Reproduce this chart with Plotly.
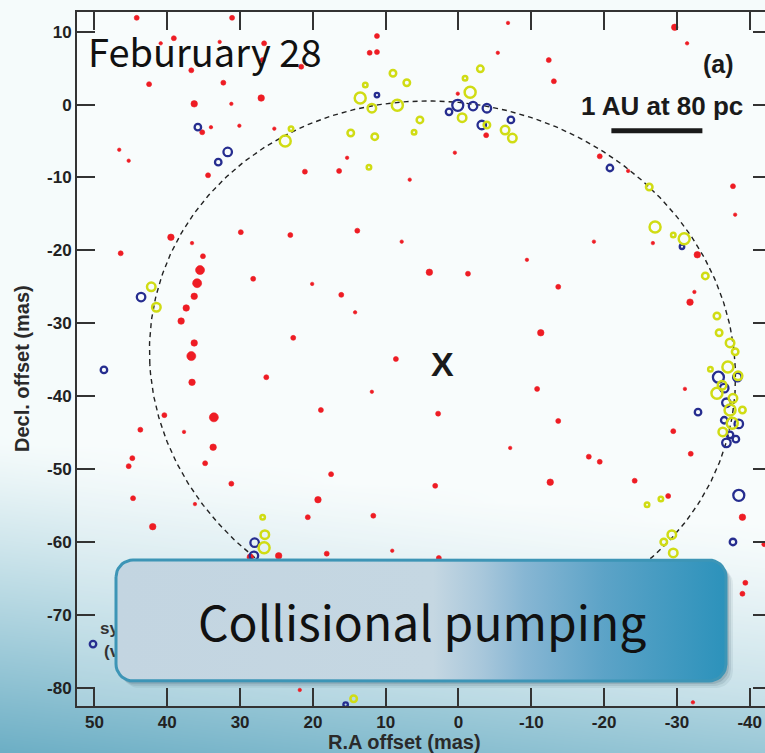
import numpy as np
import plotly.graph_objects as go

W, H = 765, 753
PL, PR, PT, PB = 77, 765, 12, 706          # plot area (pixels)

# ---------------- data (mas) : (RA offset, Dec offset, size class) ----------------
red_spots = [
    (44.2, 11.9, 2), (31.1, 11.9, 2), (39.1, 9.1, 2), (40.9, 8.4, 1), (32.8, 8.6, 1),
    (26.7, 8.4, 2), (26.9, 6.1, 2), (36.7, 4.7, 2), (21.6, 5.2, 2), (42.5, 2.8, 2),
    (32.3, 3.0, 2), (27.1, 0.9, 3), (36.3, 0.1, 3), (31.2, 0.1, 1), (35.2, -3.8, 2),
    (34.0, -3.1, 1), (30.1, -2.9, 1), (25.3, -3.3, 1), (46.6, -6.2, 1), (45.3, -7.7, 1),
    (34.4, -9.7, 2), (21.1, -9.2, 2), (16.4, -9.1, 2), (15.3, -7.3, 1), (12.2, 7.1, 2),
    (11.2, 7.2, 2), (11.2, 9.4, 2), (-6.8, 11.2, 1), (-29.7, 10.6, 3), (-31.4, 8.4, 1),
    (-12.4, 6.1, 2), (-5.4, 7.1, 1), (-13.1, 3.2, 2), (0.1, 1.5, 1), (-3.8, -4.2, 2),
    (0.5, -6.6, 1), (6.7, -10.3, 1), (-19.4, -7.1, 2), (-23.3, -9.1, 1), (-37.7, -11.2, 2),
    (-38.0, -15.1, 1),
    (39.5, -18.2, 3), (36.6, -19.0, 1), (46.4, -20.4, 2), (29.9, -17.5, 2), (23.1, -17.9, 2),
    (13.9, -17.3, 2), (7.8, -18.8, 1), (4.0, -23.0, 3), (-1.3, -23.2, 2), (-9.4, -21.3, 1),
    (-18.6, -18.8, 1), (-13.7, -25.0, 2), (-26.7, -19.0, 1), (-32.8, -20.6, 3), (-32.4, -25.7, 1),
    (-31.8, -27.1, 3), (35.1, -20.8, 2), (35.5, -22.7, 4), (35.9, -24.5, 4), (36.3, -26.3, 3),
    (37.4, -27.9, 3), (38.1, -29.7, 3), (28.2, -23.9, 2), (20.1, -24.6, 1), (16.1, -26.1, 2),
    (14.2, -28.5, 1), (36.3, -32.7, 3), (36.7, -34.5, 4), (36.6, -38.1, 3), (22.7, -32.0, 2),
    (26.4, -37.4, 2), (-11.3, -31.3, 3), (8.6, -34.9, 2), (11.9, -39.4, 1), (18.9, -41.9, 2),
    (2.8, -42.4, 2), (-10.8, -39.0, 2), (-13.7, -43.4, 2), (-31.1, -39.0, 1), (-29.5, -44.8, 2),
    (-31.9, -47.9, 2), (33.6, -42.9, 4), (33.7, -47.0, 3), (40.4, -42.6, 2), (43.7, -44.6, 2),
    (37.7, -44.9, 1), (34.8, -49.2, 2), (44.8, -48.5, 2), (45.3, -49.6, 2), (-7.1, -47.1, 1),
    (-17.9, -48.3, 2), (-19.4, -49.0, 2), (17.5, -50.7, 2), (3.2, -52.3, 2), (-12.6, -51.8, 3),
    (-24.2, -51.6, 2), (31.2, -52.0, 2), (44.7, -54.0, 2), (36.2, -54.8, 1), (19.3, -54.2, 3),
    (20.7, -56.6, 2), (11.7, -56.4, 2), (42.0, -57.9, 3), (-28.8, -53.7, 2), (-39.0, -56.6, 3),
    (18.1, -61.6, 2), (9.1, -61.2, 1), (2.7, -62.2, 2), (28.6, -62.1, 3), (24.7, -61.9, 3),
    (-39.4, -65.6, 2), (-39.0, -67.1, 2), (-42.0, -60.3, 2), (-32.2, -82.0, 1), (21.8, -80.3, 1),
]

blue_spots = [
    (35.8, -3.1, 2), (31.7, -6.5, 3), (33.0, -7.9, 2), (11.2, 1.3, 1), (0.1, -0.1, 4),
    (1.3, -1.0, 2), (-2.0, -0.2, 3), (-3.9, -0.5, 3), (-3.2, -2.8, 3), (-7.2, -2.1, 2),
    (-20.8, -8.7, 2), (43.6, -26.4, 3), (48.7, -36.4, 2), (-30.7, -19.5, 1), (-35.7, -37.4, 4),
    (-38.3, -37.4, 3), (-36.5, -38.9, 3), (-36.8, -40.9, 3), (-36.5, -43.3, 2), (-38.5, -43.8, 3),
    (-37.3, -45.3, 2), (-38.1, -45.9, 2), (-36.8, -46.4, 3), (-32.9, -42.2, 2), (-38.5, -53.6, 4),
    (-37.7, -60.0, 2), (28.0, -60.1, 3), (28.1, -61.9, 3), (50.2, -74.0, 2), (15.5, -82.3, 1),
]

yellow_spots = [
    (23.8, -5.0, 4), (23.0, -3.3, 1), (13.5, 0.9, 4), (12.8, 2.7, 1), (11.9, -0.5, 3),
    (14.8, -3.9, 2), (11.5, -4.4, 2), (12.3, -8.6, 1), (9.0, 4.3, 2), (7.1, 3.0, 2),
    (8.4, -0.1, 4), (5.3, -2.1, 2), (6.1, -3.8, 1), (-0.9, 3.6, 1), (-3.0, 4.9, 2),
    (-1.6, 1.7, 4), (-0.5, -1.8, 3), (-3.9, -2.8, 2), (-6.4, -3.5, 3), (-7.4, -4.6, 3),
    (-26.2, -11.3, 2), (-27.0, -16.8, 4), (-29.5, -17.9, 1), (-31.0, -18.4, 4), (-33.9, -23.5, 2),
    (42.2, -25.0, 3), (41.5, -27.8, 3), (-35.5, -29.0, 2), (-35.8, -31.3, 2), (-37.3, -32.7, 3),
    (-38.0, -33.9, 2), (-37.0, -36.0, 4), (-34.6, -36.3, 1), (-38.4, -37.2, 3), (-36.2, -38.5, 3),
    (-35.5, -39.6, 4), (-37.7, -40.3, 3), (-37.3, -41.9, 4), (-39.0, -41.9, 2), (-37.6, -43.7, 4),
    (-36.3, -44.9, 3), (-25.9, -54.9, 1), (-27.8, -54.1, 1), (-29.3, -59.0, 3), (-28.2, -60.0, 2),
    (-29.5, -61.5, 3), (26.9, -56.6, 1), (26.6, -59.0, 3), (26.7, -60.8, 4), (14.4, -81.5, 2),
]

x_tick_vals = [50, 40, 30, 20, 10, 0, -10, -20, -30, -40]
x_tick_text = ["50", "40", "30", "20", "10", "0", "-10", "-20", "-30", "-40"]
y_tick_vals = [10, 0, -10, -20, -30, -40, -50, -60, -70, -80]
y_tick_text = ["10", "0", "-10", "-20", "-30", "-40", "-50", "-60", "-70", "-80"]

X_RANGE = [52.4, -42.1]
Y_RANGE = [-82.5, 12.7]

ring_center = (2.2, -35.6)      # mas
ring_semi_axes = (40.2, 36.1)   # mas
ring_shear = 2.0
star_pos = (2.13, -35.6)
scale_bar_start = -21.0
scale_bar_len = 12.5            # 1 AU at 80 pc
scale_bar_dec = -3.6

RED, BLUE, YELLOW = "#ee1c24", "#262d8f", "#d0dc14"
red_px = {1: 3.5, 2: 5, 3: 6.5, 4: 9}
ring_px = {1: 4.5, 2: 6.5, 3: 8.5, 4: 11}

BOLD = "Arial, Liberation Sans, Helvetica, sans-serif"
THIN = "Noto Sans CJK JP, Noto Sans, sans-serif"
AX = "#333333"

fig = go.Figure()

# ---------------- slide background (pixel axes x/y) ----------------
gx = np.linspace(0, W, 40)
gy = np.linspace(0, H, 40)
GX, GY = np.meshgrid(gx, gy)
tt = np.clip((GY - 440 - 0.12 * GX) / 320.0, 0, 1) ** 1.15
fig.add_trace(go.Heatmap(x=gx, y=gy, z=tt, zmin=0, zmax=1, zsmooth="best",
                         colorscale=[[0, "rgb(245,251,251)"], [1, "rgb(104,172,195)"]],
                         showscale=False, hoverinfo="skip", xaxis="x", yaxis="y"))

# ---------------- main chart (x2/y2) ----------------
fig.add_trace(go.Scatter(x=[X_RANGE[0], X_RANGE[1], X_RANGE[1], X_RANGE[0]],
                         y=[Y_RANGE[1], Y_RANGE[1], Y_RANGE[0], Y_RANGE[0]],
                         fill="toself", fillcolor="rgba(255,255,255,0.28)", mode="lines",
                         line=dict(width=0), hoverinfo="skip", xaxis="x2", yaxis="y2"))

th = np.linspace(0, 2 * np.pi, 500)
ring_ra = ring_center[0] + ring_shear * np.sin(th) + ring_semi_axes[0] * np.cos(th)
ring_dec = ring_center[1] + ring_semi_axes[1] * np.sin(th)
fig.add_trace(go.Scatter(x=ring_ra, y=ring_dec, mode="lines",
                         line=dict(color="#222222", width=1.4, dash="5px,4px"),
                         hoverinfo="skip", xaxis="x2", yaxis="y2"))


def spots(lst, color, sizes, symbol, lw):
    ra = [p[0] for p in lst]
    de = [p[1] for p in lst]
    sz = [sizes[p[2]] for p in lst]
    return go.Scatter(x=ra, y=de, mode="markers", xaxis="x2", yaxis="y2",
                      marker=dict(color=color, size=sz, symbol=symbol, opacity=1,
                                  line=dict(color=color, width=lw)),
                      hoverinfo="skip", cliponaxis=True)


fig.add_trace(spots(red_spots, RED, red_px, "circle", 0.6))
fig.add_trace(spots(blue_spots, BLUE, ring_px, "circle-open", 2.3))
fig.add_trace(spots(yellow_spots, YELLOW, ring_px, "circle-open", 2.5))

# dummy trace for the right-hand tick axis
fig.add_trace(go.Scatter(x=[0], y=[0], mode="markers", marker=dict(size=1, opacity=0),
                         xaxis="x2", yaxis="y4", hoverinfo="skip"))

# ---------------- overlay (pixel axes x3/y3) ----------------
fig.add_trace(go.Scatter(x=[100, 104], y=[630, 653], mode="text",
                         text=["sys", "(v"], textposition="middle right",
                         textfont=dict(family=BOLD, size=17, color="#333333", weight="bold"),
                         hoverinfo="skip", xaxis="x3", yaxis="y3"))


def rounded_rect(x0, y0, x1, y1, r, n=10):
    xs, ys = [], []
    corners = [(x0 + r, y0 + r, np.pi, 1.5 * np.pi), (x1 - r, y0 + r, 1.5 * np.pi, 2 * np.pi),
               (x1 - r, y1 - r, 0, 0.5 * np.pi), (x0 + r, y1 - r, 0.5 * np.pi, np.pi)]
    for cx, cy, a0, a1 in corners:
        a = np.linspace(a0, a1, n)
        xs += list(cx + r * np.cos(a))
        ys += list(cy + r * np.sin(a))
    xs.append(xs[0]); ys.append(ys[0])
    return xs, ys


BOX = (116, 560, 726, 681, 17)
for off, alpha in [(7, 0.07), (5, 0.10), (3, 0.14)]:
    sx, sy = rounded_rect(BOX[0] + off - 1, BOX[1] + off, BOX[2] + off, BOX[3] + off, BOX[4])
    fig.add_trace(go.Scatter(x=sx, y=sy, fill="toself", fillcolor=f"rgba(20,50,70,{alpha})",
                             mode="lines", line=dict(width=0), hoverinfo="skip",
                             xaxis="x3", yaxis="y3"))
bx, by = rounded_rect(*BOX)
fig.add_trace(go.Scatter(
    x=bx, y=by, fill="toself", mode="lines", line=dict(color="#3d95b6", width=3),
    fillgradient=dict(type="horizontal", start=BOX[0], stop=BOX[2],
                      colorscale=[[0, "rgb(195,213,225)"], [0.52, "rgb(197,215,226)"],
                                  [0.60, "rgb(168,199,219)"], [0.67, "rgb(135,182,211)"],
                                  [0.80, "rgb(92,163,199)"], [1.0, "rgb(44,146,187)"]]),
    hoverinfo="skip", xaxis="x3", yaxis="y3"))

# ---------------- layout ----------------
tickfont = dict(family=BOLD, size=17, color="#222222", weight="bold")
fig.update_layout(
    width=W, height=H, margin=dict(l=0, r=0, t=0, b=0),
    paper_bgcolor="rgb(245,251,251)", plot_bgcolor="rgba(0,0,0,0)", showlegend=False,
    xaxis=dict(domain=[0, 1], range=[0, W], visible=False, anchor="y"),
    yaxis=dict(domain=[0, 1], range=[H, 0], visible=False, anchor="x"),
    xaxis2=dict(domain=[PL / W, PR / W], anchor="y2", range=X_RANGE,
                tickvals=x_tick_vals, ticktext=x_tick_text, ticks="inside", ticklen=18,
                tickwidth=2, tickcolor=AX, showline=True, linewidth=2, linecolor=AX,
                mirror="ticks", showgrid=False, zeroline=False, tickfont=tickfont),
    yaxis2=dict(domain=[1 - PB / H, 1 - PT / H], anchor="x2", range=Y_RANGE,
                tickvals=y_tick_vals, ticktext=y_tick_text, ticks="inside", ticklen=18,
                tickwidth=2, tickcolor=AX, showline=True, linewidth=2, linecolor=AX,
                mirror=False, showgrid=False, zeroline=False, tickfont=tickfont),
    yaxis4=dict(overlaying="y2", anchor="x2", side="right", range=Y_RANGE,
                tickvals=y_tick_vals, ticks="inside", ticklen=12, tickwidth=2, tickcolor=AX,
                showticklabels=False, showline=False, showgrid=False, zeroline=False),
    xaxis3=dict(domain=[0, 1], range=[0, W], visible=False, anchor="y3"),
    yaxis3=dict(domain=[0, 1], range=[H, 0], visible=False, anchor="x3"),
)

fig.add_shape(type="line", xref="x2", yref="y2", layer="above",
              x0=scale_bar_start, x1=scale_bar_start - scale_bar_len,
              y0=scale_bar_dec, y1=scale_bar_dec, line=dict(color="#1a1a1a", width=5))

ann = [
    dict(text="Feburuary 28", x=86, y=50, xanchor="left", yanchor="middle",
         font=dict(family=THIN, size=38, color="#111111")),
    dict(text="(a)", x=718, y=64, xanchor="center", yanchor="middle",
         font=dict(family=BOLD, size=25, color="#1a1a1a", weight="bold")),
    dict(text="1 AU at 80 pc", x=662, y=106, xanchor="center", yanchor="middle",
         font=dict(family=BOLD, size=26, color="#1a1a1a", weight="bold")),
    dict(text="R.A offset (mas)", x=404, y=742, xanchor="center", yanchor="middle",
         font=dict(family=BOLD, size=20, color="#2a2a2a", weight="bold")),
    dict(text="Decl. offset (mas)", x=22, y=369, xanchor="center", yanchor="middle",
         textangle=-90, font=dict(family=BOLD, size=20, color="#2a2a2a", weight="bold")),
    dict(text="Collisional pumping", x=422, y=620, xanchor="center", yanchor="middle",
         font=dict(family=THIN, size=48, color="#111111")),
]
for a in ann:
    fig.add_annotation(xref="x3", yref="y3", showarrow=False, **a)

fig.add_annotation(xref="x2", yref="y2", x=star_pos[0], y=star_pos[1], text="X",
                   showarrow=False, font=dict(family=BOLD, size=34, color="#1a1a1a", weight="bold"))

fig.write_html("out.html", config={"displayModeBar": False},
               post_script="document.body.style.margin='0px';document.body.style.overflow='hidden';")
